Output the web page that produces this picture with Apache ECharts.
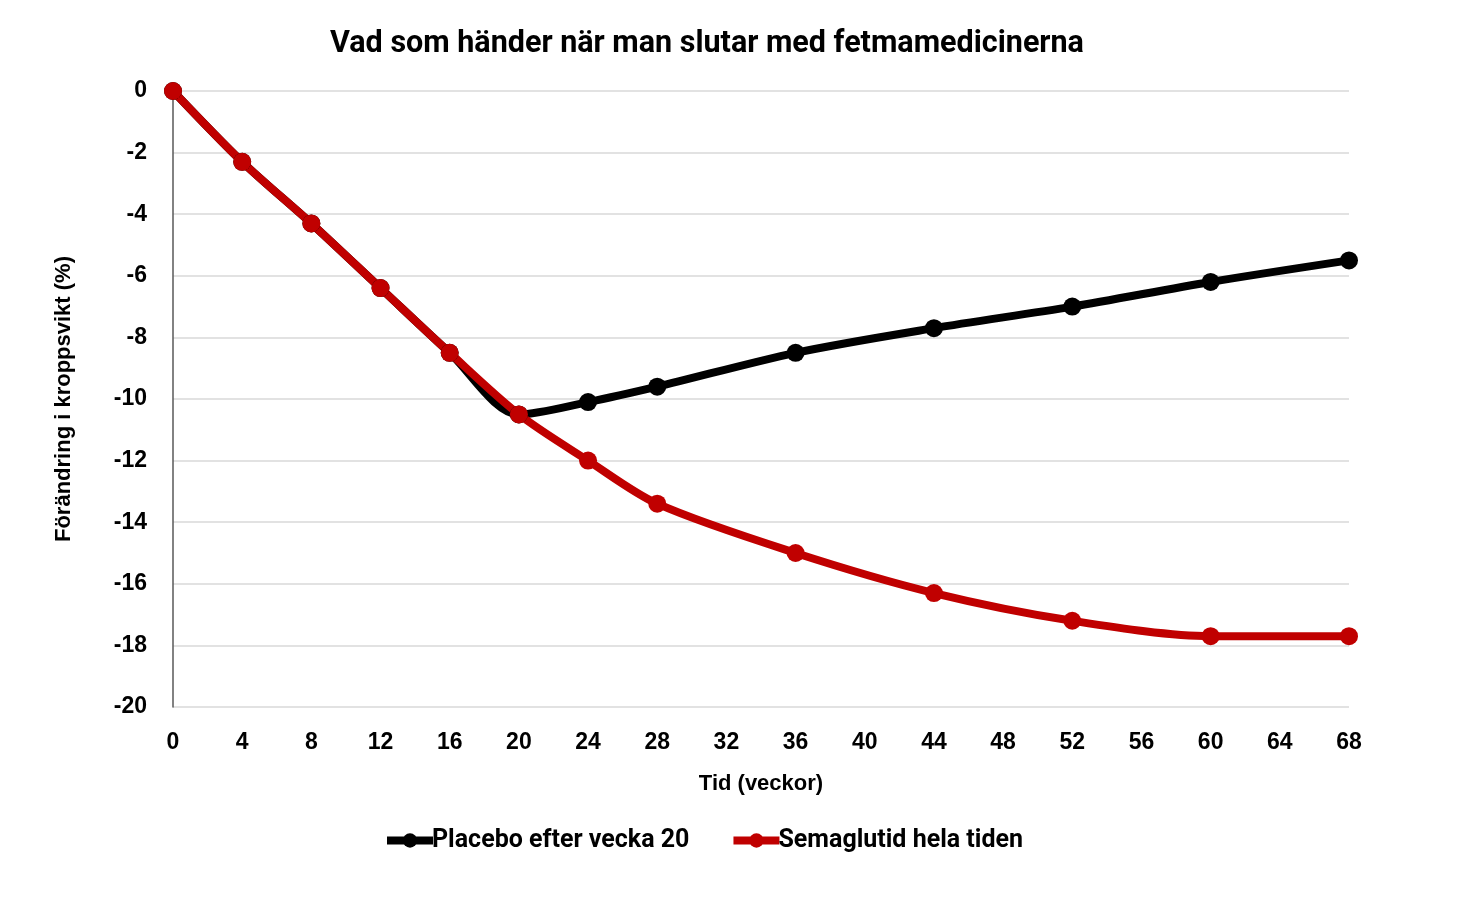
<!DOCTYPE html>
<html>
<head>
<meta charset="utf-8">
<title>Vad som händer när man slutar med fetmamedicinerna</title>
<script src="https://cdn.jsdelivr.net/npm/echarts@6/dist/echarts.min.js"></script>
<style>
  html, body { margin: 0; padding: 0; background: #fff; }
  #chart { width: 1460px; height: 900px; }
</style>
</head>
<body>
<div id="chart"></div>
<script type="text/javascript">
    // veckor
    var weeks = [0, 4, 8, 12, 16, 20, 24, 28, 36, 44, 52, 60, 68];
    // förändring i kroppsvikt (%)
    var placebo = [0, -2.3, -4.3, -6.4, -8.5, -10.5, -10.1, -9.6, -8.5, -7.7, -7.0, -6.2, -5.5];
    var semaglutid = [0, -2.3, -4.3, -6.4, -8.5, -10.5, -12.0, -13.4, -15.0, -16.3, -17.2, -17.7, -17.7];
    var seriesNames = ['Placebo efter vecka 20', 'Semaglutid hela tiden'];

    function pairs(xs, ys) {
        var out = [];
        for (var i = 0; i < xs.length; i++) out.push([xs[i], ys[i]]);
        return out;
    }

    var myChart = echarts.init(document.getElementById('chart'));
    var labelFont = { fontFamily: 'Liberation Sans', fontWeight: 'bold', fontSize: 22, color: '#000' };

    myChart.setOption({
        animation: false,
        title: {
            text: 'Vad som händer när man slutar med fetmamedicinerna',
            left: 702,
            textAlign: 'center',
            top: 24,
            textStyle: { fontFamily: 'Roboto', fontWeight: 'bold', fontSize: 30.5, color: '#000' }
        },
        legend: {
            data: seriesNames,
            bottom: 42,
            left: 378,
            itemWidth: 46,
            itemHeight: 18,
            itemGap: 40,
            lineStyle: { width: 8 },
            textStyle: { fontFamily: 'Roboto', fontWeight: 'bold', fontSize: 25, color: '#000', padding: [0, 0, 0, -6] }
        },
        grid: { left: 173, right: 111, top: 91, bottom: 193 },
        xAxis: {
            type: 'value',
            min: 0, max: 68, interval: 4,
            name: 'Tid (veckor)',
            nameLocation: 'middle',
            nameGap: 66,
            nameTextStyle: labelFont,
            axisLine: { show: false },
            axisTick: { show: false },
            splitLine: { show: false },
            axisLabel: { margin: 24, fontFamily: 'Liberation Sans', fontWeight: 'bold', fontSize: 23, color: '#000' }
        },
        yAxis: {
            type: 'value',
            min: -20, max: 0, interval: 2,
            name: 'Förändring i kroppsvikt (%)',
            nameLocation: 'middle',
            nameGap: 98,
            nameTextStyle: labelFont,
            axisLine: { show: true, lineStyle: { color: '#595959', width: 1.5 } },
            axisTick: { show: false },
            splitLine: { lineStyle: { color: '#d9d9d9', width: 1.5 } },
            axisLabel: { margin: 26, fontFamily: 'Liberation Sans', fontWeight: 'bold', fontSize: 23, color: '#000' }
        },
        series: [{
            name: seriesNames[0],
            type: 'line',
            smooth: 0.3,
            data: pairs(weeks, placebo),
            symbol: 'circle',
            symbolSize: 18,
            itemStyle: { color: '#000' },
            lineStyle: { color: '#000', width: 8 }
        }, {
            name: seriesNames[1],
            type: 'line',
            smooth: 0.3,
            data: pairs(weeks, semaglutid),
            symbol: 'circle',
            symbolSize: 18,
            itemStyle: { color: '#c00000' },
            lineStyle: { color: '#c00000', width: 8 }
        }]
    });
</script>
</body>
</html>
